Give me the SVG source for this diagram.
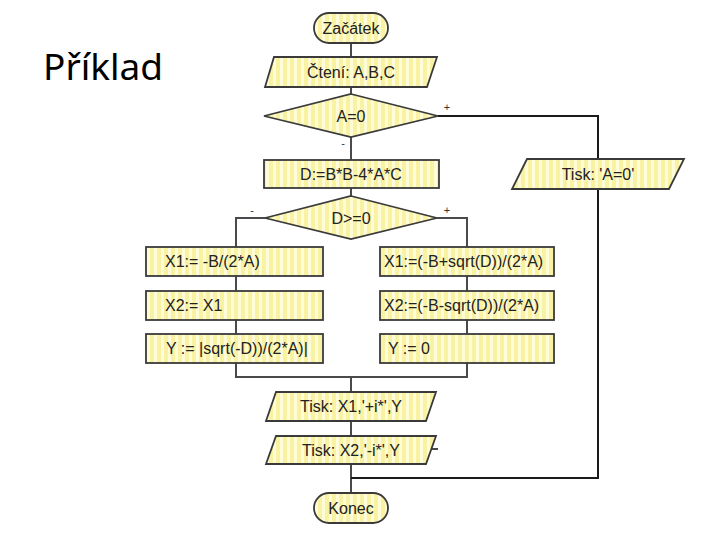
<svg xmlns="http://www.w3.org/2000/svg" width="720" height="540" viewBox="0 0 720 540">
  <defs>
    <pattern id="stripes" patternUnits="userSpaceOnUse" width="7" height="10">
      <rect width="7" height="10" fill="#f8f2a2"/>
      <rect x="0" width="3" height="10" fill="#fffcda"/>
    </pattern>
  </defs>
  <style>
    .node { fill: url(#stripes); stroke: #3a3a3a; stroke-width: 1.8; }
    .lbl { font-family: "Liberation Sans", Arial, sans-serif; font-size: 16px; fill: #222; }
    .mid { text-anchor: middle; }
    .conn { fill: none; stroke: #4a4a4a; stroke-width: 2; }
    .conn-dark { fill: none; stroke: #1a1a1a; stroke-width: 2; }
    .sign { font-family: "Liberation Sans", Arial, sans-serif; font-size: 11px; fill: #333; text-anchor: middle; }
  </style>
  <rect width="720" height="540" fill="#ffffff"/>
  <text x="43" y="80" font-family="'Noto Sans', 'Open Sans', sans-serif" font-size="37" fill="#000">Příklad</text>

  <g id="connectors">
    <line class="conn" x1="351" y1="43" x2="351" y2="57"/>
    <line class="conn" x1="351" y1="87" x2="351" y2="94"/>
    <line class="conn" x1="351" y1="137" x2="351" y2="160"/>
    <line class="conn" x1="351" y1="188" x2="351" y2="196"/>
    <polyline class="conn" points="265,218 236,218 236,377 467,377 467,218 437,218"/>
    <line class="conn" x1="351" y1="377" x2="351" y2="392"/>
    <line class="conn" x1="351" y1="421" x2="351" y2="436"/>
    <line class="conn" x1="351" y1="464" x2="351" y2="493"/>
    <polyline class="conn-dark" points="438,116 598,116 598,478 351,478"/>
    <line class="conn" x1="431" y1="449" x2="438" y2="449"/>
    <text class="sign" x="447" y="111">+</text>
    <text class="sign" x="343" y="147">-</text>
    <text class="sign" x="252" y="214">-</text>
    <text class="sign" x="447" y="214">+</text>
  </g>

  <g id="start">
    <rect class="node" x="314" y="13" width="74" height="30" rx="15"/>
    <text class="lbl mid" x="351" y="34">Začátek</text>
  </g>
  <g id="read">
    <polygon class="node" points="274,57 437,57 427,87 265,87"/>
    <text class="lbl mid" x="351" y="78">Čtení: A,B,C</text>
  </g>
  <g id="dec-a">
    <polygon class="node" points="351,94 438,116 351,137 264,116"/>
    <text class="lbl mid" x="351" y="122">A=0</text>
  </g>
  <g id="disc">
    <rect class="node" x="264" y="160" width="175" height="28"/>
    <text class="lbl mid" x="351" y="180">D:=B*B-4*A*C</text>
  </g>
  <g id="print-a0">
    <polygon class="node" points="527,159 684,159 669,189 512,189"/>
    <text class="lbl mid" x="598" y="180">Tisk: 'A=0'</text>
  </g>
  <g id="dec-d">
    <polygon class="node" points="351,196 437,218 351,239 265,218"/>
    <text class="lbl mid" x="351" y="224">D&gt;=0</text>
  </g>
  <g id="l1">
    <rect class="node" x="146" y="247" width="177" height="29"/>
    <text class="lbl" x="165" y="267">X1:= -B/(2*A)</text>
  </g>
  <g id="l2">
    <rect class="node" x="146" y="291" width="177" height="29"/>
    <text class="lbl" x="165" y="311">X2:= X1</text>
  </g>
  <g id="l3">
    <rect class="node" x="146" y="334" width="177" height="29"/>
    <text class="lbl" x="166" y="354">Y := |sqrt(-D))/(2*A)|</text>
  </g>
  <g id="r1">
    <rect class="node" x="380" y="247" width="174" height="29"/>
    <text class="lbl" x="384" y="267">X1:=(-B+sqrt(D))/(2*A)</text>
  </g>
  <g id="r2">
    <rect class="node" x="380" y="291" width="174" height="29"/>
    <text class="lbl" x="384" y="311">X2:=(-B-sqrt(D))/(2*A)</text>
  </g>
  <g id="r3">
    <rect class="node" x="380" y="334" width="174" height="29"/>
    <text class="lbl" x="388" y="354">Y := 0</text>
  </g>
  <g id="print-x1">
    <polygon class="node" points="276,392 436,392 426,421 266,421"/>
    <text class="lbl mid" x="351" y="412">Tisk: X1,'+i*',Y</text>
  </g>
  <g id="print-x2">
    <polygon class="node" points="276,436 436,436 426,464 266,464"/>
    <text class="lbl mid" x="351" y="456">Tisk: X2,'-i*',Y</text>
  </g>
  <g id="end">
    <rect class="node" x="314" y="493" width="74" height="30" rx="15"/>
    <text class="lbl mid" x="351" y="514">Konec</text>
  </g>
</svg>
